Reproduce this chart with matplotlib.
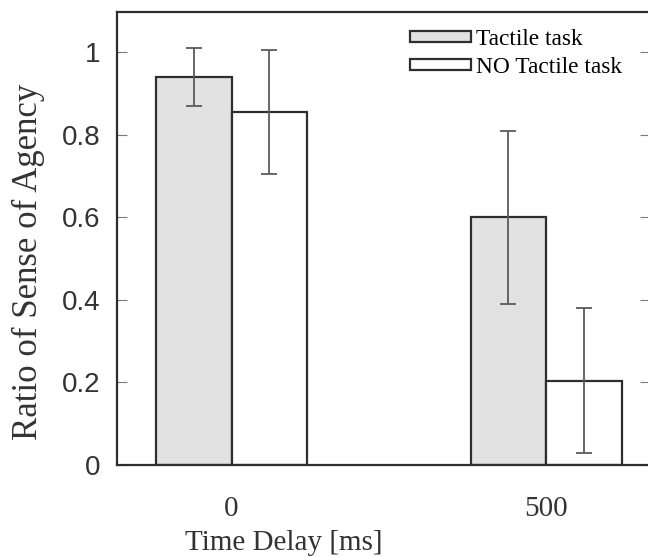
import matplotlib
import numpy as np

matplotlib.use("Agg")
import matplotlib.pyplot as plt


DELAYS = ["0", "500"]
SERIES = ["Tactile task", "NO Tactile task"]
TACTILE_MEAN = [0.94, 0.60]
TACTILE_ERR = [0.071, 0.21]
NO_TACTILE_MEAN = [0.855, 0.204]
NO_TACTILE_ERR = [0.15, 0.175]
Y_TICKS = [0, 0.2, 0.4, 0.6, 0.8, 1]
Y_TICK_LABELS = ["0", "0.2", "0.4", "0.6", "0.8", "1"]

SERIF = "Liberation Serif"
SANS = "Liberation Sans"
EDGE = "#2e2e2e"
ERR_COLOR = "#5a5a5a"


def main() -> None:
    fig = plt.figure(figsize=(6.48, 5.57), dpi=100)
    ax = fig.add_axes([117 / 648, 92 / 557, 533 / 648, 453 / 557])

    x = np.arange(len(DELAYS))
    width = 0.24

    ax.bar(x - width / 2, TACTILE_MEAN, width, color="#e2e2e2", edgecolor=EDGE,
           linewidth=1.6, label=SERIES[0], zorder=2)
    ax.bar(x + width / 2, NO_TACTILE_MEAN, width, color="white", edgecolor=EDGE,
           linewidth=1.6, label=SERIES[1], zorder=2)
    ax.errorbar(x - width / 2, TACTILE_MEAN, yerr=TACTILE_ERR, fmt="none",
                ecolor=ERR_COLOR, elinewidth=1.3, capsize=6, capthick=1.3, zorder=3)
    ax.errorbar(x + width / 2, NO_TACTILE_MEAN, yerr=NO_TACTILE_ERR, fmt="none",
                ecolor=ERR_COLOR, elinewidth=1.3, capsize=6, capthick=1.3, zorder=3)

    ax.set_xlim(-0.364, 1.33)
    ax.set_ylim(0, 1.097)

    ax.set_xticks(x)
    ax.set_xticklabels(DELAYS, fontfamily=SERIF, fontsize=21, color="#333333")
    ax.tick_params(axis="x", length=0, pad=22)

    ax.set_yticks(Y_TICKS)
    ax.set_yticklabels(Y_TICK_LABELS, fontfamily=SANS, fontsize=20, color="#333333")
    ax.tick_params(axis="y", direction="in", length=7, width=0.8, color="#777777",
                   right=True, pad=12)

    for spine in ax.spines.values():
        spine.set_linewidth(1.6)
        spine.set_color(EDGE)

    ax.set_xlabel("Time Delay [ms]", fontfamily=SERIF, fontsize=21, labelpad=6,
                  color="#333333", x=0.313)
    ax.set_ylabel("Ratio of Sense of Agency", fontfamily=SERIF, fontsize=25, labelpad=12,
                  color="#333333", y=0.448)

    ax.legend(
        loc="upper left",
        bbox_to_anchor=(410 / 648, 1 - 29 / 557),
        bbox_transform=fig.transFigure,
        frameon=False,
        prop={"family": SERIF, "size": 16.8},
        handlelength=2.6,
        handleheight=0.33,
        handletextpad=0.25,
        labelspacing=0.3,
        borderpad=0,
        borderaxespad=0,
    )

    fig.savefig("out.png", dpi=100)
    plt.close(fig)


if __name__ == "__main__":
    main()
